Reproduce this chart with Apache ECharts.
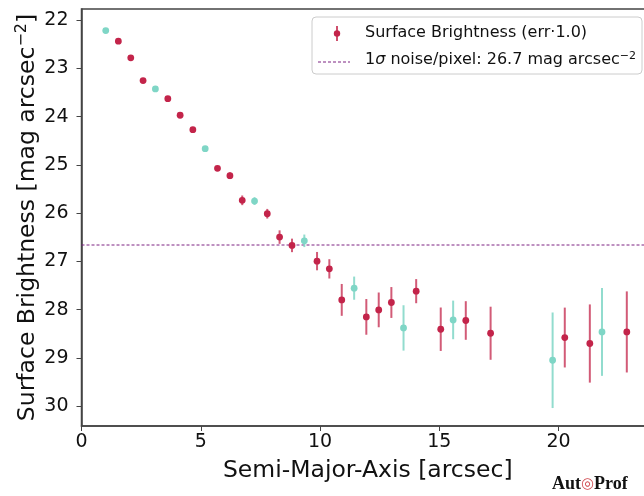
<!DOCTYPE html>
<html>
<head>
<meta charset="utf-8">
<script src="https://cdn.jsdelivr.net/npm/echarts@6/dist/echarts.min.js"></script>
<style>
  html, body { margin: 0; padding: 0; background: #fff; }
  #main { width: 644px; height: 496px; }
</style>
</head>
<body>
<div id="main"></div>
<script>
// profile points, red = all isophotes, cyan = highlighted ones
var redR   = [1.545, 2.066, 2.582, 3.619, 4.135, 4.668, 5.701, 6.222, 6.738, 7.788, 8.304, 8.825, 9.874, 10.39, 10.91, 11.94, 12.46, 12.99, 14.03, 15.06, 16.11, 17.15, 20.26, 21.31, 22.86];
var redSB  = [22.436, 22.782, 23.253, 23.627, 23.971, 24.270, 25.071, 25.224, 25.734, 26.012, 26.496, 26.668, 26.994, 27.154, 27.797, 28.149, 28.004, 27.851, 27.616, 28.405, 28.224, 28.488, 28.577, 28.701, 28.461];
var redErr = [0.03, 0.03, 0.03, 0.03, 0.04, 0.04, 0.05, 0.07, 0.10, 0.10, 0.14, 0.14, 0.19, 0.20, 0.33, 0.37, 0.36, 0.32, 0.25, 0.45, 0.40, 0.55, 0.62, 0.81, 0.84];

var cyanR   = [1.016, 3.098, 5.185, 7.254, 9.341, 11.43, 13.50, 15.58, 19.75, 21.82];
var cyanSB  = [22.216, 23.425, 24.664, 25.749, 26.573, 27.554, 28.378, 28.212, 29.048, 28.461];
var cyanErr = [0.02, 0.03, 0.04, 0.08, 0.13, 0.24, 0.47, 0.40, 0.99, 0.91];

var noiseLevel = 26.66;
var xRange = [0, 24];
var xTicks = [0, 5, 10, 15, 20];
var yTicks = [22, 23, 24, 25, 26, 27, 28, 29, 30];

var RED = '#c3244a';
var CYAN = '#7fd6c6';
var NOISE = '#7d2282';

function triples(xs, ys, es) {
    return xs.map(function (x, i) { return [x, ys[i], es[i]]; });
}

function errBar(dot, bar) {
    return function (params, api) {
        var x = api.value(0), y = api.value(1), e = api.value(2);
        var p = api.coord([x, y]);
        var lo = api.coord([x, y - e]);
        var hi = api.coord([x, y + e]);
        return {
            type: 'group',
            children: [
                { type: 'line', shape: { x1: p[0], y1: lo[1], x2: p[0], y2: hi[1] },
                  style: { stroke: bar, lineWidth: 2 } },
                { type: 'circle', shape: { cx: p[0], cy: p[1], r: 3.4 },
                  style: { fill: dot } }
            ]
        };
    };
}

var myChart = echarts.init(document.getElementById('main'));

var font = 'DejaVu Sans';

let option = {
    backgroundColor: '#fff',
    animation: false,
    grid: {
        left: 81.5, top: 9, bottom: 70, right: -10,
        outerBoundsMode: 'none',
        containLabel: false,
        show: true, borderColor: '#444', borderWidth: 1.5
    },
    xAxis: {
        type: 'value', min: xRange[0], max: xRange[1],
        name: 'Semi-Major-Axis [arcsec]',
        nameLocation: 'middle', nameGap: 33,
        nameMoveOverlap: false,
        nameTextStyle: { fontFamily: font, fontSize: 23.5, color: '#111' },
        axisLine: { show: true, lineStyle: { color: '#444', width: 1.5 } },
        axisTick: { show: true, length: 5, lineStyle: { color: '#444' }, customValues: xTicks },
        axisLabel: { fontFamily: font, fontSize: 19, color: '#111', margin: 7, customValues: xTicks },
        splitLine: { show: false }
    },
    yAxis: {
        type: 'value', inverse: true, min: 21.77, max: 30.41,
        name: '{a|Surface Brightness [mag arcsec}{s|\u22122}{a|]}',
        nameLocation: 'middle', nameGap: 40,
        nameMoveOverlap: false,
        nameTextStyle: {
            rich: {
                a: { fontFamily: font, fontSize: 23.5, color: '#111' },
                s: { fontFamily: font, fontSize: 16, color: '#111', verticalAlign: 'top', padding: [0, 0, 12, 0] }
            }
        },
        axisLine: { show: true, lineStyle: { color: '#444', width: 1.5 } },
        axisTick: { show: true, length: 5, lineStyle: { color: '#444' }, customValues: yTicks },
        axisLabel: { fontFamily: font, fontSize: 19, color: '#111', margin: 13, customValues: yTicks },
        splitLine: { show: false }
    },
    series: [
        {
            name: 'noise',
            type: 'line',
            data: [[xRange[0], noiseLevel], [xRange[1], noiseLevel]],
            symbol: 'none',
            silent: true,
            lineStyle: { color: NOISE, type: [3, 2], width: 1 },
            z: 2
        },
        {
            name: 'Surface Brightness',
            type: 'custom',
            renderItem: errBar(RED, 'rgba(195,36,74,0.75)'),
            data: triples(redR, redSB, redErr),
            z: 3
        },
        {
            name: 'highlighted',
            type: 'custom',
            renderItem: errBar(CYAN, 'rgba(127,214,198,0.85)'),
            data: triples(cyanR, cyanSB, cyanErr),
            z: 3
        }
    ],
    graphic: [
        {
            type: 'rect', z: 10,
            shape: { x: 312, y: 17, width: 330, height: 57, r: 4 },
            style: { fill: 'rgba(255,255,255,0.85)', stroke: '#ccc', lineWidth: 1 }
        },
        { type: 'line', z: 11, shape: { x1: 337, y1: 26, x2: 337, y2: 41 },
          style: { stroke: 'rgba(195,36,74,0.8)', lineWidth: 2 } },
        { type: 'circle', z: 11, shape: { cx: 337, cy: 33.5, r: 3.2 }, style: { fill: RED } },
        { type: 'line', z: 11, shape: { x1: 318, y1: 62, x2: 350, y2: 62 },
          style: { stroke: NOISE, lineWidth: 1, lineDash: [3, 2] } },
        {
            type: 'text', z: 11, left: 365, top: 25,
            style: { text: 'Surface Brightness (err\u00b71.0)', fontFamily: font, fontSize: 16, fill: '#111' }
        },
        {
            type: 'text', z: 11, left: 365, top: 51,
            style: {
                text: '{a|1}{i|\u03c3}{a| noise/pixel: 26.7 mag arcsec}{s|\u22122}',
                rich: {
                    a: { fontFamily: font, fontSize: 16, fill: '#111' },
                    i: { fontFamily: font, fontSize: 16, fontStyle: 'italic', fill: '#111' },
                    s: { fontFamily: font, fontSize: 11, fill: '#111', verticalAlign: 'top', padding: [0, 0, 6, 0] }
                }
            }
        },
        {
            type: 'text', z: 11, left: 552, top: 475,
            style: {
                text: '{b|Aut}{o|\u25ce}{b|Prof}',
                rich: {
                    b: { fontFamily: 'Liberation Serif', fontWeight: 'bold', fontSize: 18, fill: '#111' },
                    o: { fontFamily: 'DejaVu Sans', fontSize: 15, fill: '#d04a50' }
                }
            }
        }
    ]
};

myChart.setOption(option);
</script>
</body>
</html>
